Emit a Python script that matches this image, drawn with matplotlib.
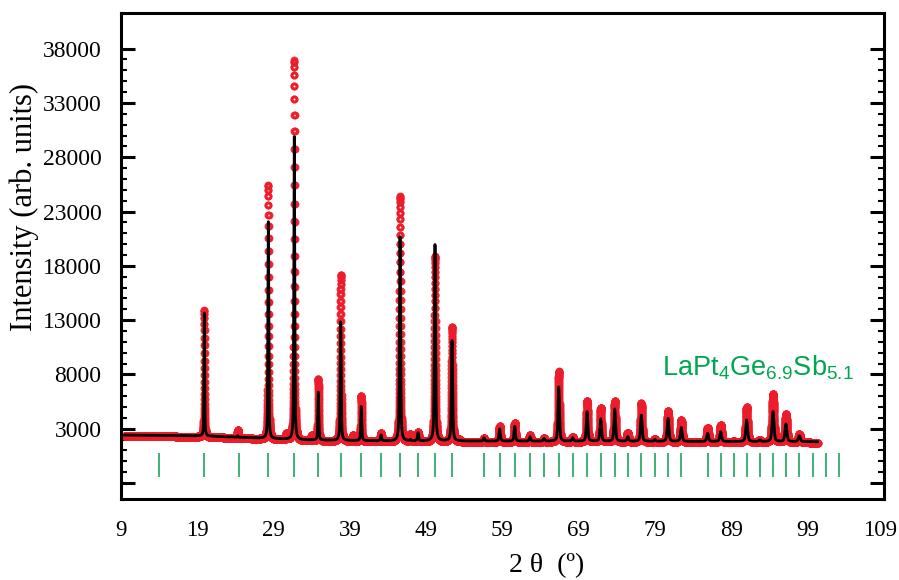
import numpy as np
import matplotlib
matplotlib.use("Agg")
import matplotlib.pyplot as plt
import matplotlib.transforms as mtransforms
from matplotlib.ticker import FixedLocator, FuncFormatter

# --- data ---
# background anchors (2theta, intensity)
bg_pos = [9.5, 20.0, 25.0, 33.0, 44.0, 70.0, 100.3]
bg_int = [2420, 2330, 2200, 1960, 1870, 1850, 1800]

# peak positions (2theta), observed top and calculated top intensities
peak_pos = [19.92, 24.30, 28.31, 30.70, 31.71, 34.00, 34.86, 37.79, 39.40,
            40.49, 43.08, 45.57, 46.90, 47.93, 50.15, 52.38, 53.30, 56.57,
            58.63, 60.60, 62.60, 64.44, 66.37, 68.20, 70.08, 71.87, 73.71,
            75.41, 77.19, 78.95, 80.69, 82.43, 85.89, 87.60, 89.30, 91.00,
            92.71, 94.45, 96.15, 97.90]
obs_top = [14000, 2950, 25500, 2600, 37000, 2500, 7650, 17250, 2500,
           6100, 2700, 24500, 2550, 2750, 18950, 12450, 2100, 2200,
           3300, 3600, 2500, 2200, 8350, 2300, 5650, 5000, 5600,
           2700, 5400, 2100, 4700, 3850, 3150, 3400, 1900, 5050,
           2050, 6300, 4400, 2550]
calc_top = [13650, 2350, 22060, 2000, 29900, 1960, 6350, 12850, 1900,
            5030, 2420, 20680, 1980, 2600, 19950, 11100, 1880, 2150,
            2990, 3220, 2260, 2100, 6830, 2150, 4570, 3890, 4810,
            2260, 4250, 2000, 3950, 3100, 2570, 2720, 1850, 3800,
            1950, 4570, 3430, 2330]

# Bragg reflection positions (green ticks)
bragg_pos = [14.02, 19.92, 24.47, 28.31, 31.71, 34.86, 37.79, 40.49, 43.08,
             45.57, 47.93, 50.15, 52.38, 56.57, 58.63, 60.60, 62.60, 64.44,
             66.37, 68.20, 70.08, 71.87, 73.71, 75.41, 77.19, 78.95, 80.69,
             82.43, 85.89, 87.60, 89.30, 91.00, 92.71, 94.45, 96.15, 97.90,
             99.65, 101.40, 103.14]

x_start, x_end, x_step = 9.5, 100.3, 0.005
x_ticks = list(range(9, 110, 10))
y_major = list(range(-2000, 38001, 5000))
y_minor = list(range(-2000, 38001, 1000))


def profile(x, pos, tops, bg):
    # pseudo-Voigt peaks on top of the background
    y = bg.copy()
    for p, t in zip(pos, tops):
        h = t - np.interp(p, bg_pos, bg_int)
        if h <= 0:
            continue
        w = 0.08 + 0.0025 * (p - 9)
        g = np.exp(-4 * np.log(2) * ((x - p) / w) ** 2)
        lo = 1 / (1 + 4 * ((x - p) / w) ** 2)
        y += h * (0.5 * g + 0.5 * lo)
    return y


x = np.arange(x_start, x_end, x_step)
bg = np.interp(x, bg_pos, bg_int).astype(float)
y_obs = profile(x, peak_pos, obs_top, bg - 80)
y_calc = profile(x, peak_pos, calc_top, bg)

plt.rcParams['font.family'] = ['Liberation Serif', 'DejaVu Serif']
plt.rcParams['mathtext.fontset'] = 'custom'
plt.rcParams['mathtext.rm'] = 'Liberation Sans'

fig = plt.figure(figsize=(8.99, 5.80), dpi=100)
ax = fig.add_axes([121 / 899, 81 / 580, 763 / 899, 486 / 580])

ax.plot(x, y_obs, 'o', ms=3.7, mfc='none', mec='#ec1c2a', mew=2.0,
        alpha=0.9, zorder=2)
ax.plot(x, y_calc, color='black', lw=2, zorder=3)
ax.vlines(bragg_pos, -1450, 760, color='#1aa55a', lw=1.2, zorder=2)

ax.text(0.709, 0.255,
        r'LaPt$_{\mathregular{4}}$Ge$_{\mathregular{6.9}}$Sb$_{\mathregular{5.1}}$',
        transform=ax.transAxes, color='#00a650', fontsize=19.5,
        family=['Liberation Sans', 'DejaVu Sans'], ha='left', va='baseline')

ax.set_xlim(9, 109)
ax.set_ylim(-3470, 41280)
ax.set_xticks(x_ticks)
ax.yaxis.set_major_locator(FixedLocator(y_major))
ax.yaxis.set_minor_locator(FixedLocator(y_minor))
ax.yaxis.set_major_formatter(FuncFormatter(lambda v, p: '' if v < 0 else f'{int(v)}'))

ax.tick_params(axis='x', length=0, pad=15, labelsize=16.5)
ax.tick_params(axis='y', which='major', direction='in', length=10, width=2.2,
               left=True, right=True, pad=14, labelsize=17)
ax.tick_params(axis='y', which='minor', direction='in', length=4.5, width=1.5,
               left=True, right=True)
for s in ax.spines.values():
    s.set_linewidth(2.2)

# nudge the last x label so it stays inside the figure
last = ax.get_xticklabels()[-1]
last.set_transform(last.get_transform() +
                   mtransforms.ScaledTranslation(-4 / 100, 0, fig.dpi_scale_trans))

ax.set_ylabel('Intensity (arb. units)', fontsize=22)
ax.yaxis.set_label_coords(-0.108, 0.60)
ax.set_xlabel('2 θ  (º)', fontsize=20)
ax.xaxis.set_label_coords(0.558, -0.112)

fig.savefig('out.png', dpi=100)
